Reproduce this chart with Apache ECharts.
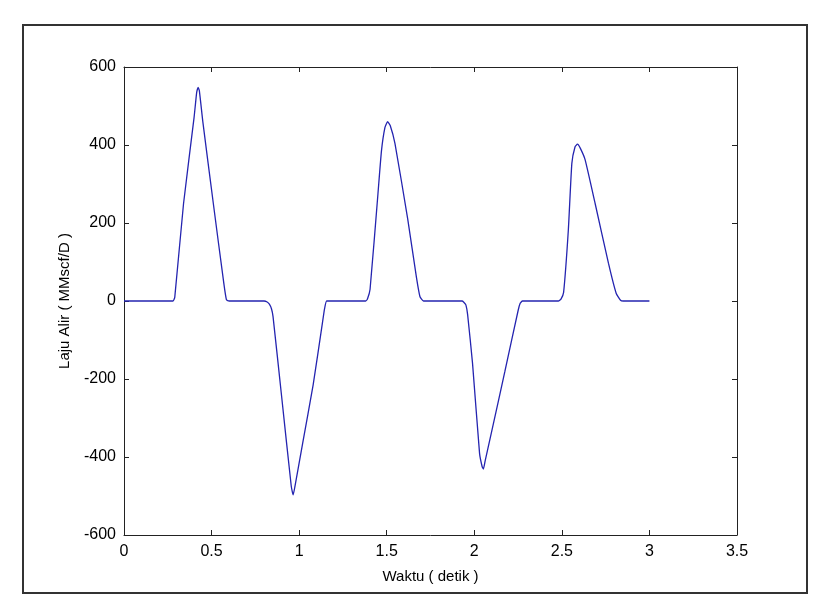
<!DOCTYPE html>
<html>
<head>
<meta charset="utf-8">
<title>Laju Alir</title>
<script src="https://cdn.jsdelivr.net/npm/echarts@6/dist/echarts.min.js"></script>
<style>
    html,body{margin:0;padding:0;background:#fff;}
    #chart{width:826px;height:609px;}
</style>
</head>
<body>
<div id="chart"></div>
<script>
// waktu (detik) dan laju alir (MMscf/D)
var waktu = [
    0, 0.28, 0.29, 0.34, 0.40, 0.415, 0.423, 0.43, 0.45, 0.51, 0.57, 0.585, 0.60, 0.80,
    0.815, 0.83, 0.842, 0.851, 0.90, 0.955, 0.966, 0.975, 1.02, 1.08, 1.13, 1.145, 1.157, 1.18,
    1.38, 1.39, 1.405, 1.45, 1.47, 1.49, 1.505, 1.52, 1.547, 1.62, 1.67, 1.69, 1.71, 1.93,
    1.94, 1.952, 1.962, 1.99, 2.03, 2.045, 2.052, 2.062, 2.10, 2.175, 2.25, 2.262, 2.275, 2.30,
    2.48, 2.495, 2.51, 2.537, 2.557, 2.575, 2.589, 2.605, 2.633, 2.69, 2.766, 2.81, 2.835, 2.85, 3.0
];
var laju = [
    0, 0, 10, 250, 470, 535, 548, 540, 460, 250, 45, 3, 0, 0,
    -2, -8, -20, -40, -245, -475, -497, -478, -365, -215, -65, -20, 0, 0,
    0, 5, 30, 275, 385, 445, 460, 450, 404, 210, 60, 11, 0, 0,
    -3, -10, -35, -160, -390, -425, -431, -410, -333, -180, -25, -6, 0, 0,
    0, 5, 22, 182, 353, 395, 402, 392, 362, 250, 97, 20, 2, 0, 0
];
var xTicks = [0, 3.5, 0.5];     // min, max, interval
var yTicks = [-600, 600, 200];

var myChart = echarts.init(document.getElementById("chart"));

var data = waktu.map(function (t, i) {
    return [t, laju[i]];
});

var font = "'Liberation Sans', Arial, sans-serif";
var axisCommon = {
    axisLine: {show: true, onZero: false, lineStyle: {color: "#222", width: 1}},
    axisTick: {show: true, inside: true, length: 5, lineStyle: {color: "#222", width: 1}},
    splitLine: {show: false}
};

var option = {
    animation: false,
    backgroundColor: "#fff",
    textStyle: {fontFamily: font},
    // bingkai luar figure
    graphic: [{
        type: "rect",
        shape: {x: 23, y: 25, width: 784, height: 568},
        style: {fill: "none", stroke: "#333", lineWidth: 2},
        z: -1
    }],
    grid: {left: 124, top: 67, right: 89, bottom: 74, containLabel: false},
    xAxis: [
        Object.assign({
            type: "value",
            min: xTicks[0], max: xTicks[1], interval: xTicks[2],
            name: "Waktu ( detik )",
            nameLocation: "middle",
            nameGap: 34,
            nameTextStyle: {color: "#000", fontSize: 15, fontFamily: font},
            axisLabel: {color: "#000", fontSize: 16, margin: 9, fontFamily: font}
        }, axisCommon),
        Object.assign({
            type: "value", position: "top",
            min: xTicks[0], max: xTicks[1], interval: xTicks[2],
            axisLabel: {show: false}
        }, axisCommon)
    ],
    yAxis: [
        Object.assign({
            type: "value",
            min: yTicks[0], max: yTicks[1], interval: yTicks[2],
            name: "Laju Alir ( MMscf/D )",
            nameLocation: "middle",
            nameGap: 52,
            nameTextStyle: {color: "#000", fontSize: 15, fontFamily: font},
            axisLabel: {color: "#000", fontSize: 16, margin: 8, fontFamily: font}
        }, axisCommon),
        Object.assign({
            type: "value", position: "right",
            min: yTicks[0], max: yTicks[1], interval: yTicks[2],
            axisLabel: {show: false}
        }, axisCommon)
    ],
    series: [{
        type: "line",
        data: data,
        showSymbol: false,
        smooth: 0.15,
        lineStyle: {color: "#2424b0", width: 1.3},
        itemStyle: {color: "#2424b0"}
    }]
};

myChart.setOption(option);
</script>
</body>
</html>
